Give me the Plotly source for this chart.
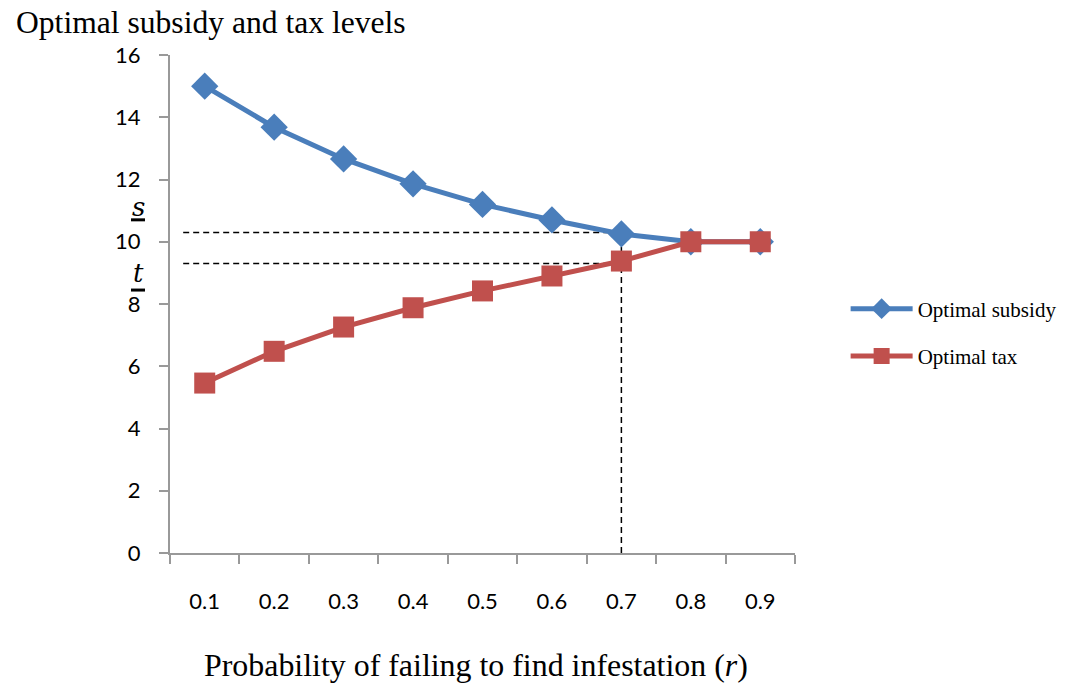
import plotly.graph_objects as go

r_labels = ["0.1", "0.2", "0.3", "0.4", "0.5", "0.6", "0.7", "0.8", "0.9"]
subsidy = [15.0, 13.68, 12.66, 11.86, 11.2, 10.7, 10.25, 10.0, 10.0]
tax = [5.46, 6.48, 7.26, 7.88, 8.42, 8.9, 9.38, 10.0, 10.0]
y_ticks = [0, 2, 4, 6, 8, 10, 12, 14, 16]
s_level = 10.3
t_level = 9.3
r_star = 6  # index of 0.7

BLUE = "#4A7EBB"
RED = "#C0504D"

fig = go.Figure()
fig.add_trace(go.Scatter(
    x=r_labels, y=subsidy, mode="lines+markers", name="Optimal subsidy",
    line=dict(color=BLUE, width=5),
    marker=dict(symbol="diamond", size=21, color=BLUE),
    legendgroup="a",
))
fig.add_trace(go.Scatter(
    x=r_labels, y=tax, mode="lines+markers", name="Optimal tax",
    line=dict(color=RED, width=5),
    marker=dict(symbol="square", size=21, color=RED),
    legendgroup="b",
))

dash = dict(color="black", width=1.5, dash="6px,4px")
fig.add_shape(type="line", xref="x", yref="y", x0=-0.31, x1=r_star, y0=s_level, y1=s_level, line=dash, layer="below")
fig.add_shape(type="line", xref="x", yref="y", x0=-0.31, x1=r_star, y0=t_level, y1=t_level, line=dash, layer="below")
fig.add_shape(type="line", xref="x", yref="y", x0=r_star, x1=r_star, y0=0, y1=s_level, line=dash, layer="below")

# underline bars for s and t labels
fig.add_shape(type="line", xref="paper", yref="paper", x0=-0.0624, x1=-0.040, y0=0.669, y1=0.669,
              line=dict(color="black", width=3))
fig.add_shape(type="line", xref="paper", yref="paper", x0=-0.0624, x1=-0.040, y0=0.528, y1=0.528,
              line=dict(color="black", width=3))

fig.add_annotation(text="<i>s</i>", xref="paper", yref="paper", x=-0.051, y=0.695,
                   showarrow=False, font=dict(family="DejaVu Serif", size=26, color="black"),
                   xanchor="center", yanchor="middle")
fig.add_annotation(text="<i>t</i>", xref="paper", yref="paper", x=-0.051, y=0.563,
                   showarrow=False, font=dict(family="DejaVu Serif", size=26, color="black"),
                   xanchor="center", yanchor="middle")

fig.add_annotation(text="Optimal subsidy and tax levels", xref="paper", yref="paper",
                   x=-0.25, y=1.066, xanchor="left", yanchor="middle", showarrow=False,
                   font=dict(family="Liberation Serif", size=31.6, color="black"))
fig.add_annotation(text="Probability of failing to find infestation (<i>r</i>)", xref="paper", yref="paper",
                   x=0.49, y=-0.225, xanchor="center", yanchor="middle", showarrow=False,
                   font=dict(family="Liberation Serif", size=31.9, color="black"))

fig.update_layout(
    width=1070, height=684,
    margin=dict(l=170, r=275, t=55, b=131, autoexpand=False),
    paper_bgcolor="white", plot_bgcolor="white",
    showlegend=True,
    legend=dict(x=1.081, y=0.531, xanchor="left", yanchor="top",
                font=dict(family="Liberation Serif", size=21, color="black"),
                itemwidth=62,
                tracegroupgap=17, bgcolor="rgba(0,0,0,0)"),
    xaxis=dict(type="category", range=[-0.5, 8.5], showgrid=False, zeroline=False,
               showline=True, linecolor="#999999", linewidth=2,
               ticks="outside", tickson="boundaries", ticklen=9, tickcolor="#999999", tickwidth=2,
               ticklabelstandoff=28,
               tickfont=dict(family="Lato", size=22, color="black")),
    yaxis=dict(range=[0, 16], tickvals=y_ticks, showgrid=False, zeroline=False,
               showline=True, linecolor="#999999", linewidth=2,
               ticks="outside", ticklen=9, tickcolor="#999999", tickwidth=2,
               ticklabelstandoff=14,
               tickfont=dict(family="Lato", size=22, color="black")),
)

fig.write_html("out.html")
